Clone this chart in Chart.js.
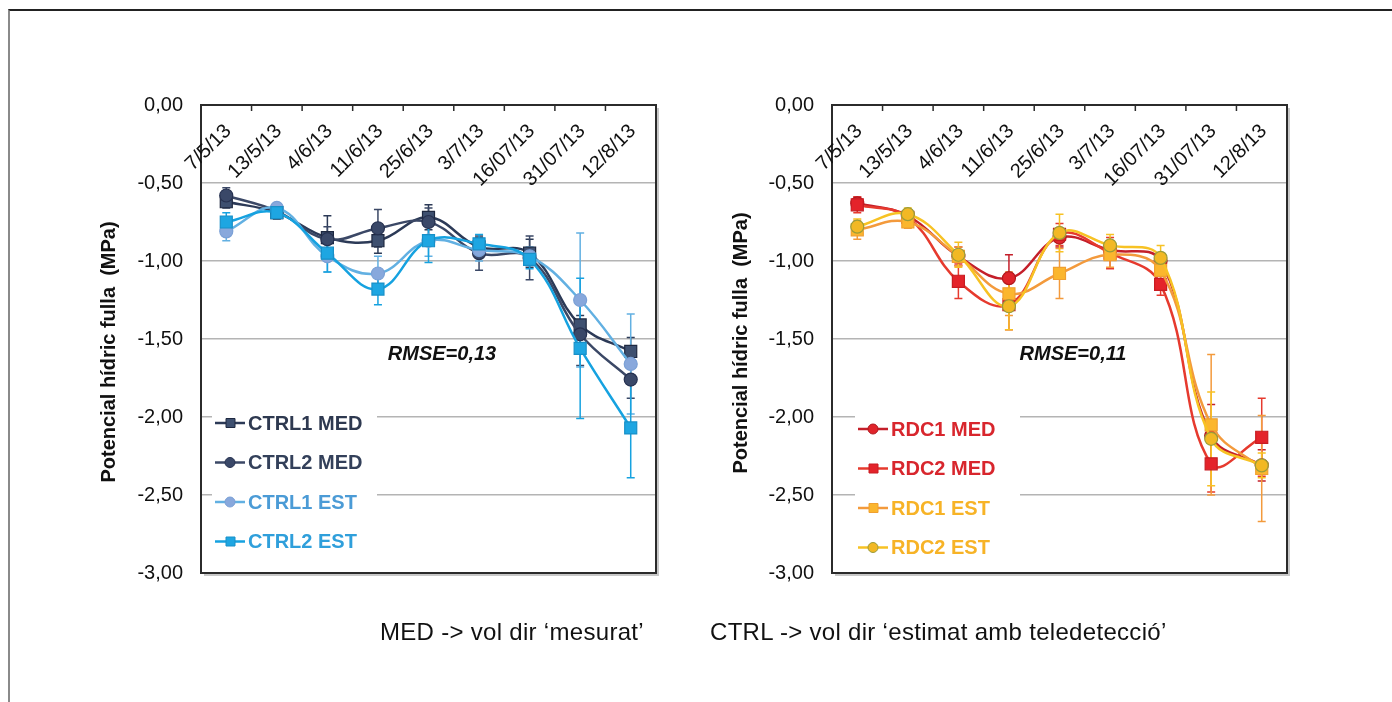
<!DOCTYPE html>
<html>
<head>
<meta charset="utf-8">
<script src="https://cdn.jsdelivr.net/npm/chart.js@4.4.0/dist/chart.umd.min.js"></script>
<style>
body { margin: 0; background: #fff; width: 1392px; height: 702px; overflow: hidden; position: relative; font-family: "Liberation Sans", Arial, sans-serif; }
#frame { position: absolute; left: 8px; top: 9px; width: 1400px; height: 720px; border-top: 2px solid #222; border-left: 2px solid #8a8a8a; }
canvas { position: absolute; left: 0; top: 0; }
.note { position: absolute; top: 618px; font-size: 24px; letter-spacing: 0.3px; color: #111; white-space: nowrap; }
</style>
</head>
<body>
<div id="frame"></div>
<canvas id="chart_ctrl" width="1392" height="702"></canvas>
<canvas id="chart_rdc" width="1392" height="702"></canvas>
<div class="note" style="left:380px">MED -&gt; vol dir ‘mesurat’</div>
<div class="note" style="left:710px">CTRL -&gt; vol dir ‘estimat amb teledetecció’</div>
<script>
var dates = ['7/5/13', '13/5/13', '4/6/13', '11/6/13', '25/6/13', '3/7/13', '16/07/13', '31/07/13', '12/8/13'];
var yTickValues = [0, -0.5, -1, -1.5, -2, -2.5, -3];
var yTickLabels = ['0,00', '-0,50', '-1,00', '-1,50', '-2,00', '-2,50', '-3,00'];
var yTitle = 'Potencial hídric fulla  (MPa)';

// left chart: control
var ctrl1Med = [-0.62, -0.69, -0.85, -0.87, -0.72, -0.91, -0.95, -1.41, -1.58];
var ctrl2Med = [-0.58, -0.68, -0.86, -0.79, -0.75, -0.95, -0.98, -1.47, -1.76];
var ctrl1Est = [-0.81, -0.66, -0.97, -1.08, -0.87, -0.93, -0.97, -1.25, -1.66];
var ctrl2Est = [-0.75, -0.69, -0.95, -1.18, -0.87, -0.89, -0.99, -1.56, -2.07];
var ctrl1MedErr = [0.04, 0.04, 0.14, 0.08, 0.08, 0.06, 0.09, 0.06, 0.09];
var ctrl2MedErr = [0.05, 0.04, 0.08, 0.12, 0.09, 0.11, 0.14, 0.2, 0.12];
var ctrl1EstErr = [0.06, 0.03, 0.1, 0.11, 0.1, 0.07, 0.06, 0.43, 0.32];
var ctrl2EstErr = [0.06, 0.03, 0.12, 0.1, 0.14, 0.06, 0.06, 0.45, 0.32];

// right chart: RDC
var rdc1Med = [-0.63, -0.71, -0.97, -1.11, -0.85, -0.93, -1.00, -2.12, -2.31];
var rdc2Med = [-0.64, -0.72, -1.13, -1.28, -0.83, -0.95, -1.15, -2.30, -2.13];
var rdc1Est = [-0.80, -0.75, -0.97, -1.21, -1.08, -0.96, -1.06, -2.05, -2.33];
var rdc2Est = [-0.78, -0.70, -0.96, -1.29, -0.82, -0.90, -0.98, -2.14, -2.31];
var rdc1MedErr = [0.04, 0.03, 0.06, 0.15, 0.06, 0.06, 0.05, 0.2, 0.1];
var rdc2MedErr = [0.05, 0.04, 0.11, 0.16, 0.07, 0.1, 0.07, 0.18, 0.25];
var rdc1EstErr = [0.06, 0.04, 0.06, 0.14, 0.16, 0.08, 0.06, 0.45, 0.34];
var rdc2EstErr = [0.05, 0.04, 0.08, 0.15, 0.12, 0.07, 0.08, 0.3, 0.08];

var FONT = '"Liberation Sans", Arial, sans-serif';

// error bars, plot box, rotated date labels, inside legend, rmse text, y title
var extras = {
    id: 'extras',
    beforeDatasetsDraw: function (chart) {
        var ctx = chart.ctx, x = chart.scales.x, y = chart.scales.y;
        chart.data.datasets.forEach(function (ds) {
            ctx.save();
            ctx.strokeStyle = ds.borderColor;
            ctx.lineWidth = 1.5;
            ds.data.forEach(function (v, i) {
                var e = ds.errors[i];
                var px = x.getPixelForValue(i);
                var top = y.getPixelForValue(v + e), bot = y.getPixelForValue(v - e);
                ctx.beginPath();
                ctx.moveTo(px, top); ctx.lineTo(px, bot);
                ctx.moveTo(px - 4, top); ctx.lineTo(px + 4, top);
                ctx.moveTo(px - 4, bot); ctx.lineTo(px + 4, bot);
                ctx.stroke();
            });
            ctx.restore();
        });
    },
    afterDraw: function (chart, args, opts) {
        var ctx = chart.ctx, a = chart.chartArea, x = chart.scales.x;
        var labels = chart.data.labels;
        ctx.save();
        // box with light shadow
        ctx.strokeStyle = '#c8c8c8';
        ctx.lineWidth = 2;
        ctx.beginPath();
        ctx.moveTo(a.right + 2, a.top + 3);
        ctx.lineTo(a.right + 2, a.bottom + 2);
        ctx.lineTo(a.left + 3, a.bottom + 2);
        ctx.stroke();
        ctx.strokeStyle = '#2b2b2b';
        ctx.strokeRect(a.left, a.top, a.right - a.left, a.bottom - a.top);
        ctx.lineWidth = 1.5;
        for (var i = 1; i < labels.length; i++) {
            var bx = (x.getPixelForValue(i - 1) + x.getPixelForValue(i)) / 2;
            ctx.beginPath();
            ctx.moveTo(bx, a.top);
            ctx.lineTo(bx, a.top + 6);
            ctx.stroke();
        }
        // date labels
        ctx.fillStyle = '#111';
        ctx.font = '20px ' + FONT;
        ctx.textAlign = 'right';
        ctx.textBaseline = 'middle';
        labels.forEach(function (lab, i) {
            ctx.save();
            ctx.translate(x.getPixelForValue(i) + 2, a.top + 23);
            ctx.rotate(-Math.PI / 4);
            ctx.fillText(lab, 0, 0);
            ctx.restore();
        });
        // legend
        var lx = a.left + opts.legendX, ly = a.top + opts.legendY;
        ctx.fillStyle = '#fff';
        ctx.fillRect(lx - 3, ly - 20, 165, 160);
        chart.data.datasets.forEach(function (ds, i) {
            var cy = ly + i * 39.5;
            ctx.strokeStyle = ds.borderColor;
            ctx.lineWidth = 2.5;
            ctx.beginPath();
            ctx.moveTo(lx, cy); ctx.lineTo(lx + 30, cy);
            ctx.stroke();
            ctx.fillStyle = ds.pointBackgroundColor;
            ctx.strokeStyle = ds.pointBorderColor;
            ctx.lineWidth = 1;
            ctx.beginPath();
            if (ds.pointStyle === 'rect') {
                ctx.rect(lx + 11, cy - 4.5, 9, 9);
            } else {
                ctx.arc(lx + 15, cy, 5, 0, Math.PI * 2);
            }
            ctx.fill();
            ctx.stroke();
            ctx.fillStyle = ds.legendColor;
            ctx.font = 'bold 20px ' + FONT;
            ctx.textAlign = 'left';
            ctx.fillText(ds.label, lx + 33, cy + 1);
        });
        // rmse
        ctx.fillStyle = '#111';
        ctx.font = 'italic bold 20px ' + FONT;
        ctx.textAlign = 'center';
        ctx.fillText(opts.rmse, a.left + 241, a.top + 249);
        // y title
        ctx.font = 'bold 20px ' + FONT;
        ctx.translate(a.left + opts.titleX, a.top + opts.titleY);
        ctx.rotate(-Math.PI / 2);
        ctx.fillText(yTitle, 0, 0);
        ctx.restore();
    }
};

function series(label, data, errors, line, fill, border, style, textColor, order) {
    return {
        label: label,
        data: data,
        errors: errors,
        borderColor: line,
        borderWidth: 2.5,
        tension: 0.4,
        pointStyle: style,
        pointRadius: style === 'rect' ? 8.5 : 6.5,
        pointBackgroundColor: fill,
        pointBorderColor: border,
        pointBorderWidth: 1.2,
        legendColor: textColor,
        order: order
    };
}

function makeChart(id, datasets, padLeft, padRight, extraOpts) {
    var ctx = document.getElementById(id);
    return new Chart(ctx, {
        type: 'line',
        data: {
            labels: dates,
            datasets: datasets
        },
        plugins: [extras],
        options: {
            responsive: false,
            animation: false,
            events: [],
            layout: {
                padding: { left: padLeft, right: padRight, top: 105, bottom: 129 }
            },
            plugins: {
                legend: { display: false },
                tooltip: { enabled: false },
                extras: extraOpts
            },
            scales: {
                x: {
                    type: 'category',
                    display: false,
                    offset: true
                },
                y: {
                    min: -3,
                    max: 0,
                    afterFit: function (scale) { scale.width = 100; },
                    border: { display: false },
                    grid: {
                        color: '#b4b4b4',
                        lineWidth: 1.5,
                        drawTicks: false
                    },
                    ticks: {
                        stepSize: 0.5,
                        padding: 18,
                        color: '#111',
                        font: { size: 20, family: FONT },
                        callback: function (v) {
                            return yTickLabels[yTickValues.indexOf(Math.round(v * 100) / 100)];
                        }
                    }
                }
            }
        }
    });
}

makeChart('chart_ctrl', [
    series('CTRL1 MED', ctrl1Med, ctrl1MedErr, '#2c3a57', '#3e5070', '#1e2840', 'rect', '#2e3950', 3),
    series('CTRL2 MED', ctrl2Med, ctrl2MedErr, '#3b4866', '#3a4868', '#263150', 'circle', '#33405a', 2),
    series('CTRL1 EST', ctrl1Est, ctrl1EstErr, '#62b0e2', '#88a8dc', '#7aa0d6', 'circle', '#4b9bd6', 1),
    series('CTRL2 EST', ctrl2Est, ctrl2EstErr, '#16a2e0', '#1ea6e2', '#1890c8', 'rect', '#2f9fdb', 0)
], 101, 736, { rmse: 'RMSE=0,13', titleX: -92, titleY: 247, legendX: 14, legendY: 318 });

makeChart('chart_rdc', [
    series('RDC1 MED', rdc1Med, rdc1MedErr, '#c41f2a', '#e0242b', '#b0181f', 'circle', '#d8262d', 3),
    series('RDC2 MED', rdc2Med, rdc2MedErr, '#e63a2e', '#e4232a', '#c81c22', 'rect', '#d8262d', 2),
    series('RDC1 EST', rdc1Est, rdc1EstErr, '#f39a3c', '#fbb62e', '#f0a030', 'rect', '#f7b326', 1),
    series('RDC2 EST', rdc2Est, rdc2EstErr, '#f7c224', '#f2b824', '#9a9c3a', 'circle', '#f7b326', 0)
], 732, 105, { rmse: 'RMSE=0,11', titleX: -91, titleY: 238, legendX: 26, legendY: 324 });
</script>
</body>
</html>
